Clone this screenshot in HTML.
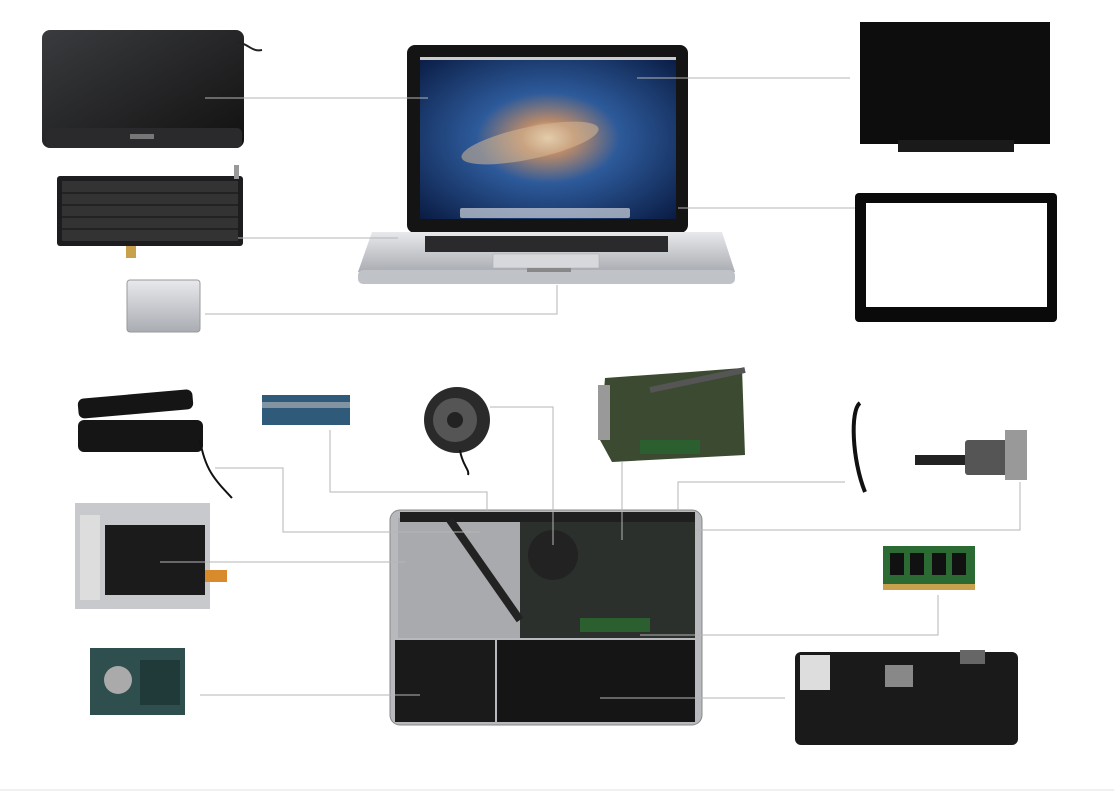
<!DOCTYPE html>
<html><head><meta charset="utf-8"><style>
html,body{margin:0;padding:0;background:#fff;width:1114px;height:794px;overflow:hidden;font-family:"Liberation Sans",sans-serif}
</style></head><body>
<svg width="1114" height="794" viewBox="0 0 1114 794" xmlns="http://www.w3.org/2000/svg">
<defs>
<radialGradient id="gal" cx="0.5" cy="0.5" r="0.7">
<stop offset="0" stop-color="#f3e6c8"/><stop offset="0.15" stop-color="#b98a6a"/><stop offset="0.4" stop-color="#2d5a9a"/><stop offset="1" stop-color="#0a1c44"/></radialGradient>
<linearGradient id="silver" x1="0" y1="0" x2="0" y2="1"><stop offset="0" stop-color="#e8e9ec"/><stop offset="1" stop-color="#a9acb2"/></linearGradient>
<linearGradient id="dark" x1="0" y1="0" x2="1" y2="1"><stop offset="0" stop-color="#3a3b3e"/><stop offset="1" stop-color="#111"/></linearGradient>
</defs>
<!-- display assembly top-left -->
<rect x="42" y="30" width="202" height="118" rx="8" fill="url(#dark)"/>
<rect x="46" y="128" width="196" height="20" rx="5" fill="#2a2a2c"/>
<rect x="130" y="134" width="24" height="5" fill="#777"/>
<path d="M238 42 C250 45 252 52 262 50" stroke="#222" stroke-width="2" fill="none"/>
<!-- keyboard -->
<rect x="57" y="176" width="186" height="70" rx="3" fill="#1d1d1f"/>
<rect x="62" y="181" width="176" height="60" fill="#333"/>
<g stroke="#111" stroke-width="1">
<line x1="62" y1="193" x2="238" y2="193"/><line x1="62" y1="205" x2="238" y2="205"/><line x1="62" y1="217" x2="238" y2="217"/><line x1="62" y1="229" x2="238" y2="229"/></g>
<rect x="126" y="246" width="10" height="12" fill="#c9a14c"/>
<rect x="234" y="165" width="5" height="14" fill="#999"/>
<!-- trackpad -->
<rect x="127" y="280" width="73" height="52" rx="3" fill="url(#silver)" stroke="#999"/>
<!-- center macbook -->
<rect x="407" y="45" width="281" height="188" rx="8" fill="#141414"/>
<rect x="420" y="57" width="256" height="162" fill="url(#gal)"/>
<ellipse cx="530" cy="143" rx="70" ry="16" fill="#d7b894" opacity="0.55" transform="rotate(-12 530 143)"/>
<rect x="420" y="57" width="256" height="3" fill="#ccc"/>
<rect x="460" y="208" width="170" height="10" rx="2" fill="#cfd3da" opacity="0.7"/>
<path d="M372 232 L722 232 L735 272 L358 272 Z" fill="url(#silver)"/>
<rect x="358" y="270" width="377" height="14" rx="5" fill="#bfc2c7"/>
<rect x="425" y="236" width="243" height="16" fill="#2a2a2c"/>
<rect x="493" y="254" width="106" height="14" fill="#d6d8dc" stroke="#aaa" stroke-width="0.5"/>
<rect x="527" y="268" width="44" height="4" fill="#888"/>
<!-- LCD panel -->
<rect x="860" y="22" width="190" height="122" fill="#0d0d0d"/>
<rect x="898" y="140" width="116" height="12" fill="#1a1a1a"/>
<!-- glass bezel -->
<rect x="855" y="193" width="202" height="129" rx="4" fill="#0a0a0a"/>
<rect x="866" y="203" width="181" height="104" fill="#fff"/>
<!-- speakers -->
<rect x="78" y="394" width="115" height="20" rx="6" fill="#151515" transform="rotate(-5 135 404)"/>
<rect x="78" y="420" width="125" height="32" rx="6" fill="#151515"/>
<path d="M200 440 C205 470 215 480 232 498" stroke="#111" stroke-width="2" fill="none"/>
<!-- airport card -->
<rect x="262" y="395" width="88" height="30" fill="#2f5a7a"/>
<rect x="262" y="402" width="88" height="6" fill="#bbb" opacity="0.6"/>
<!-- fan -->
<circle cx="457" cy="420" r="33" fill="#2a2a2a"/>
<circle cx="455" cy="420" r="22" fill="#555"/>
<circle cx="455" cy="420" r="8" fill="#222"/>
<path d="M460 450 C462 465 470 470 468 475" stroke="#111" stroke-width="2" fill="none"/>
<!-- logic board -->
<path d="M605 378 L690 372 L742 368 L745 455 L612 462 L600 440 Z" fill="#3b4a30"/>
<rect x="640" y="440" width="60" height="14" fill="#2c5f30"/>
<rect x="598" y="385" width="12" height="55" fill="#999"/>
<path d="M650 390 L745 370" stroke="#555" stroke-width="6"/>
<!-- cable -->
<path d="M860 403 C850 410 852 460 865 492" stroke="#111" stroke-width="4" fill="none"/>
<!-- DC in -->
<rect x="915" y="455" width="50" height="10" fill="#222"/>
<rect x="965" y="440" width="50" height="35" rx="3" fill="#555"/>
<rect x="1005" y="430" width="22" height="50" fill="#999"/>
<!-- optical drive -->
<rect x="75" y="503" width="135" height="106" fill="#c7c9cc"/>
<rect x="105" y="525" width="100" height="70" fill="#1b1b1b"/>
<rect x="80" y="515" width="20" height="85" fill="#ddd"/>
<rect x="205" y="570" width="22" height="12" fill="#d98a2a"/>
<!-- HDD -->
<rect x="90" y="648" width="95" height="67" fill="#2f4f4e"/>
<circle cx="118" cy="680" r="14" fill="#aaa"/>
<rect x="140" y="660" width="40" height="45" fill="#1f3a38"/>
<!-- RAM -->
<rect x="883" y="546" width="92" height="42" fill="#2b6b33"/>
<rect x="883" y="584" width="92" height="6" fill="#c9a14c"/>
<g fill="#111"><rect x="890" y="553" width="14" height="22"/><rect x="910" y="553" width="14" height="22"/><rect x="932" y="553" width="14" height="22"/><rect x="952" y="553" width="14" height="22"/></g>
<!-- battery -->
<rect x="795" y="652" width="223" height="93" rx="6" fill="#1a1a1a"/>
<rect x="885" y="665" width="28" height="22" fill="#888"/>
<rect x="800" y="655" width="30" height="35" fill="#ddd"/>
<rect x="960" y="650" width="25" height="14" fill="#666"/>
<!-- open bottom case -->
<rect x="390" y="510" width="312" height="215" rx="10" fill="#b8b9bc" stroke="#888"/>
<rect x="398" y="518" width="130" height="120" fill="#a8aaae"/>
<rect x="520" y="518" width="175" height="120" fill="#2b302c"/>
<circle cx="553" cy="555" r="25" fill="#222"/>
<rect x="395" y="640" width="100" height="82" fill="#1a1a1a"/>
<rect x="497" y="640" width="198" height="82" fill="#151515"/>
<rect x="580" y="618" width="70" height="14" fill="#2c5f30"/>
<rect x="400" y="512" width="295" height="10" fill="#1f1f1f"/>
<path d="M450 520 L520 620" stroke="#222" stroke-width="8"/>
<!-- connector lines on top -->
<g stroke="#b5b5b5" stroke-width="1" fill="none">
<polyline points="205,98 428,98"/>
<polyline points="238,238 398,238"/>
<polyline points="205,314 557,314 557,285"/>
<polyline points="637,78 850,78"/>
<polyline points="678,208 855,208"/>
<polyline points="215,468 283,468 283,532 480,532"/>
<polyline points="330,430 330,492 487,492 487,512"/>
<polyline points="490,407 553,407 553,545"/>
<polyline points="622,462 622,540"/>
<polyline points="845,482 678,482 678,512"/>
<polyline points="1020,482 1020,530 695,530"/>
<polyline points="160,562 405,562"/>
<polyline points="938,595 938,635 640,635"/>
<polyline points="200,695 420,695"/>
<polyline points="600,698 785,698"/>
<polyline points="0,790 1114,790" stroke="#e2e2e2"/>
</g>
</svg>
</body></html>
